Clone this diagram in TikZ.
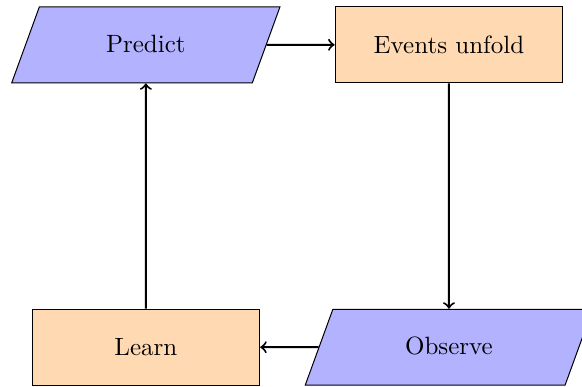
\documentclass[tikz,border=0pt]{standalone}
\usepackage{tikz}
\usetikzlibrary{arrows}
\usetikzlibrary{shapes.geometric}
\usetikzlibrary{positioning}

\begin{document}
\begin{tikzpicture}[
    io/.style = {trapezium, trapezium left angle=70, trapezium right angle=110, trapezium stretches body, draw, fill=blue!30, text height=1.6ex, text depth=0.2ex, inner ysep=11.3pt},
    proc/.style = {rectangle, draw, fill=orange!30, minimum width=3.2cm, minimum height=1.07cm},
    flow/.style = {->, thick}]
      \useasboundingbox (0, 0) rectangle (8.18, -5.43);

      \node [io, minimum width=3.77cm] (predict) at (2.05, -0.63) {Predict};
      \node [proc] (events) at (6.31, -0.63) {Events unfold};
      \node [io, minimum width=4.04cm] (observe) at (6.31, -4.88) {Observe};
      \node [proc] (learn) at (2.05, -4.88) {Learn};

      \draw [flow] (predict) -- (events);
      \draw [flow] (events) -- (observe);
      \draw [flow] (observe) -- (learn);
      \draw [flow] (learn) -- (predict);
\end{tikzpicture}
\end{document}
